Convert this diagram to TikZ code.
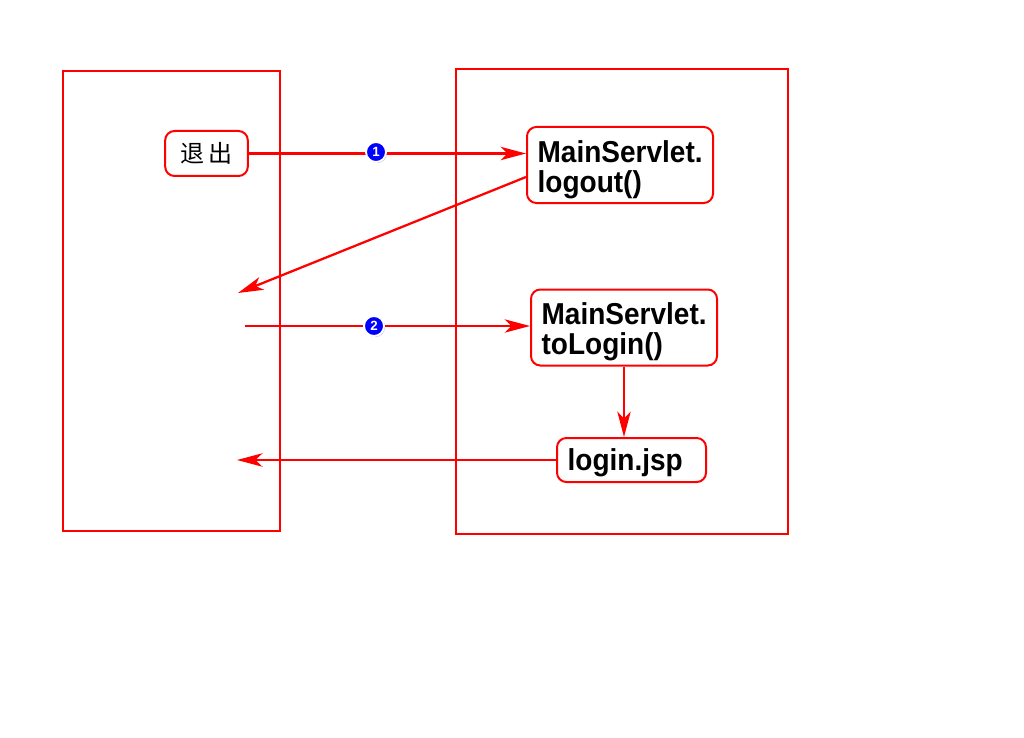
\documentclass[tikz,border=0pt]{standalone}
\usepackage{fontspec}
\setmainfont{Liberation Sans}
\newfontfamily\cjk{Noto Sans CJK SC}
\usetikzlibrary{arrows.meta,shadows}

% the labels are set a bit taller than wide
\newcommand{\tall}[1]{\scalebox{1}[1.08]{#1}}

\tikzset{
  box/.style={draw=red, line width=1.5pt, rounded corners=7pt, fill=white},
  mbox/.style={box, align=left, text width=123.5pt, inner xsep=8pt, inner ysep=3pt,
    text height=23.5pt, text depth=27.5pt,
    font=\fontsize{21}{22.5}\selectfont\bfseries},
  flow/.style={draw=red, line width=1.7pt, -{Stealth[length=19pt,width=10pt,inset=5pt]}},
  badge/.style={circle, fill=blue, draw=white, line width=1.4pt, inner sep=0pt,
    minimum size=15pt, text=white, font=\fontsize{10}{10}\selectfont\bfseries,
    drop shadow={shadow xshift=0.8pt, shadow yshift=-0.8pt, opacity=0.5}},
}

\begin{document}
\begin{tikzpicture}[x=0.75pt, y=-0.75pt]
% page size
\useasboundingbox (0,0) rectangle (1024,738);

% the two frames
\draw[red, line width=2.2pt] (63,71) rectangle (280,531);
\draw[red, line width=2.2pt] (456,69) rectangle (788,534);

% nodes
\node[box, minimum width=62pt, minimum height=33.75pt, font=\cjk\fontsize{18}{18}\selectfont] (quit) at (206.5,153.5) {退\hspace{3pt}出};
\node[mbox] (logout) at (620,165) {\tall{MainServlet.}\\\tall{logout()}};
\node[mbox] (tologin) at (624,327.5) {\tall{MainServlet.}\\\tall{toLogin()}};
\node[box, align=left, text width=95.75pt, inner xsep=8pt, inner ysep=3pt,
  text height=21pt, text depth=6pt,
  font=\fontsize{21}{22.5}\selectfont\bfseries] (loginjsp) at (631.5,460) {\tall{login.jsp}};

% free ends on the left
\coordinate (back1) at (238,293);
\coordinate (start2) at (245,326);
\coordinate (back2) at (237,460);

% connectors
\draw[flow] (quit.east) -- (logout.west |- quit.east);
\draw[flow] (logout.west |- 0,177) -- (back1);
\draw[flow] (start2) -- (tologin.west |- start2);
\draw[flow] (tologin.south -| 624,0) -- (loginjsp.north -| 624,0);
\draw[flow] (loginjsp.west) -- (back2);

% badges
\node[badge] (b1) at (376,152) {1};
\node[badge] (b2) at (374,326) {2};
\end{tikzpicture}
\end{document}
